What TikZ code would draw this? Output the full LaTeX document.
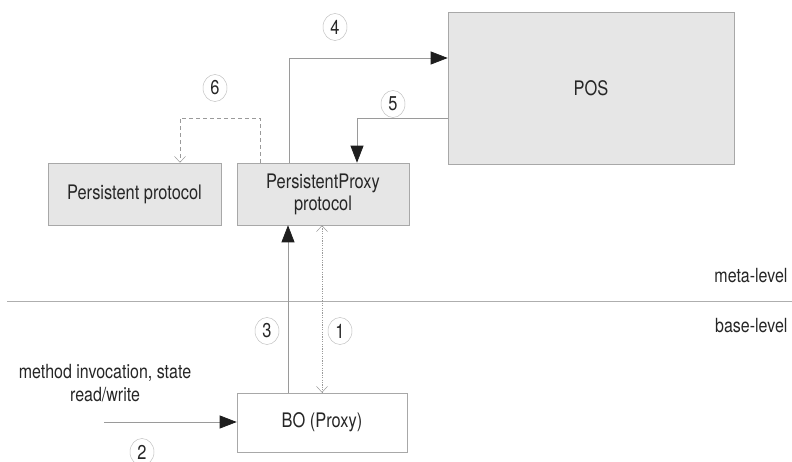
\documentclass[tikz,border=0pt]{standalone}
\usepackage{fontspec}
\setmainfont{TeX Gyre Heros}[FakeStretch=0.82]
\usetikzlibrary{arrows.meta,shapes.geometric}
\definecolor{ink}{HTML}{262626}
\definecolor{wire}{HTML}{9A9A9A}
\definecolor{tipfill}{HTML}{1E1E1E}
\definecolor{boxfill}{HTML}{E6E6E6}
\definecolor{boxline}{HTML}{A8A8A8}
\tikzset{
  box/.style={draw=boxline, fill=boxfill, line width=0.6pt, text=ink,
    font=\fontsize{20}{23}\selectfont, align=center, inner sep=0pt},
  plainbox/.style={box, fill=white},
  num/.style={ellipse, draw=boxline!70, fill=white, line width=0.5pt, text=ink,
    minimum width=24pt, minimum height=27pt, inner sep=0pt,
    font=\fontsize{20}{20}\selectfont},
  label/.style={text=ink, font=\fontsize{19.5}{23}\selectfont, align=center},
  flow/.style={draw=wire, line width=0.7pt,
    -{Triangle[length=17pt,width=13pt,color=tipfill,fill=tipfill]}},
  backflow/.style={draw=wire, line width=0.6pt, dash pattern=on 4pt off 3pt,
    -{Straight Barb[length=6pt,width=11pt,line width=0.5pt]}},
  callflow/.style={draw=wire, line width=0.6pt, dash pattern=on 1.2pt off 1.2pt,
    {Straight Barb[length=6pt,width=11pt,line width=0.5pt]}-{Straight Barb[length=6pt,width=11pt,line width=0.5pt]}}
}
\begin{document}
\begin{tikzpicture}[x=1pt,y=-1pt]
\useasboundingbox (0,0) rectangle (792,462);

% level separator
\draw[draw=wire!80, line width=0.6pt] (7,301) coordinate (sepL) -- (792,301) coordinate (sepR);
\node[label, anchor=east] (meta) at (791,276) {meta-level};
\node[label, anchor=east] (base) at (791,326) {base-level};

% boxes
\node[box, minimum width=173pt, minimum height=62pt] (pers) at (134.5,194) {Persistent protocol};
\node[box, minimum width=172pt, minimum height=62pt] (pp) at (323,194) {PersistentProxy\\[-1pt]protocol};
\node[box, minimum width=286pt, minimum height=152pt] (pos) at (591,88) {POS};
\node[plainbox, minimum width=170pt, minimum height=59pt] (bo) at (322,422.5) {BO (Proxy)};

% routing points
\coordinate (r4) at (289,58);
\coordinate (r5) at (357,118);
\coordinate (r6a) at (260,118);
\coordinate (r6b) at (180,118);
\coordinate (r3) at (288,0);
\coordinate (r1) at (322,0);
\coordinate (src) at (104,422);

% connectors
\draw[flow] (pp.north -| r4) |- (pos.west |- r4);
\draw[flow] (pos.west |- r5) -| (pp.north -| r5);
\draw[backflow] (pp.north -| r6a) -- (r6a) -- (r6b) -- (pers.north -| r6b);
\draw[flow] (bo.north -| r3) -- (pp.south -| r3);
\draw[callflow] (pp.south -| r1) -- (bo.north -| r1);
\draw[flow] (src) -- (bo.west |- src);

% input label
\node[label] (inv) at (105,383) {method invocation, state\\read/write};

% step numbers
\node[num] (n4) at (335,27) {4};
\node[num] (n6) at (215,88) {6};
\node[num] (n5) at (393,104) {5};
\node[num] (n3) at (267,331) {3};
\node[num] (n1) at (340,331) {1};
\node[num] (n2) at (142,452) {2};
\end{tikzpicture}
\end{document}
